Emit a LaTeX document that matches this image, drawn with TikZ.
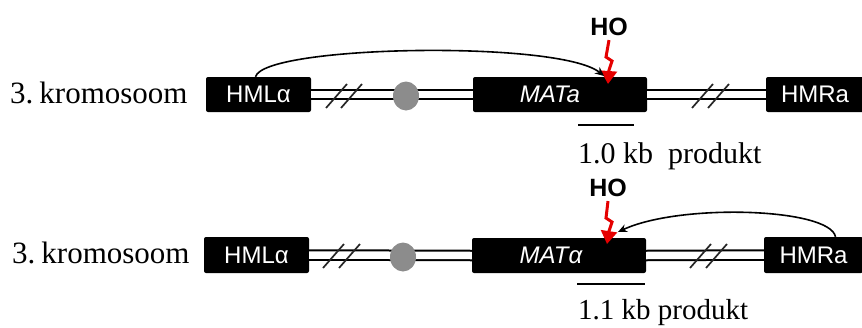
\documentclass[tikz,border=0pt]{standalone}
\usepackage{fontspec}
\setmainfont{Liberation Serif}
\newfontfamily\arialfont{Liberation Sans}
\usetikzlibrary{arrows.meta}
\begin{document}
\begin{tikzpicture}[x=1pt,y=-1pt,
  locus/.style={fill=black, text=white, rounded corners=2pt, inner sep=0pt,
    font=\arialfont\fontsize{24}{28}\selectfont},
  chromlabel/.style={anchor=base west, inner sep=0pt, font=\fontsize{31}{36}\selectfont},
  prodlabel/.style={anchor=base west, inner sep=0pt, font=\fontsize{30}{36}\selectfont},
  holabel/.style={inner sep=0pt, font=\arialfont\bfseries\fontsize{25}{30}\selectfont},
  dna/.style={draw=black, line width=2pt, double=white, double distance=7.5pt},
  breakmark/.style={draw=black!85, line width=1.7pt},
  centromere/.style={fill=black!45, draw=none},
  donor/.style={draw=black, line width=1.6pt, -{Stealth[length=9pt,width=8pt]}},
  cut/.style={draw=red!90!black, line width=3pt, line join=miter,
    -{Triangle[length=13pt,width=16pt]}},
  prodbar/.style={draw=black, line width=2pt}]
\useasboundingbox (0,0) rectangle (862,327);

% ---------- upper chromosome ----------
\node[chromlabel] (chr1) at (10,103) {3.\hspace{6pt}kromosoom};
\node[locus, minimum width=105pt, minimum height=35pt] (hml1) at (258.5,94.5) {HMLα};
\node[locus, minimum width=174pt, minimum height=35pt] (mat1) at (560,94.5) {\hspace{-20pt}\itshape MATa};
\node[locus, minimum width=98pt, minimum height=35pt] (hmr1) at (815,94.5) {HMRa};
\draw[dna] (hml1.east) -- (mat1.west);
\draw[dna] (mat1.east) -- (hmr1.west);
\draw[breakmark] (326,108) -- (347,84);
\draw[breakmark] (341,108) -- (362,84);
\draw[breakmark] (692,108) -- (713,84);
\draw[breakmark] (708,108) -- (729,84);
\fill[centromere] (406,96) ellipse [x radius=13pt, y radius=14.5pt];

\node[holabel] (ho1) at (609,27) {HO};
\coordinate (cut1) at (608,84);
\draw[cut] (ho1.south) ++(0,4) -- (606,57) -- (612,61) -- (609,70) -- (cut1);
\coordinate (don1) at (604,76);
\draw[donor] (hml1.north) ++(-3,0) .. controls (264,45) and (560,40) .. (don1);

\draw[prodbar] (578,125) -- (634,125);
\node[prodlabel] (prod1) at (578,163) {1.0 kb\ \ produkt};

% ---------- lower chromosome ----------
\node[chromlabel] (chr2) at (12,263) {3.\hspace{6pt}kromosoom};
\node[locus, minimum width=105pt, minimum height=36pt] (hml2) at (256.5,255) {HMLα};
\node[locus, minimum width=174pt, minimum height=35pt] (mat2) at (559,255.5) {\hspace{-16pt}\itshape MATα};
\node[locus, minimum width=99pt, minimum height=36pt] (hmr2) at (813.5,255) {HMRa};
\draw[dna] (hml2.east) -- (mat2.west);
\draw[dna] (mat2.east) -- (hmr2.west);
\draw[breakmark] (323,268) -- (344,244);
\draw[breakmark] (339,268) -- (360,244);
\draw[breakmark] (690,268) -- (711,244);
\draw[breakmark] (706,268) -- (727,244);
\fill[centromere] (403,257) ellipse [x radius=13pt, y radius=14.5pt];

\node[holabel] (ho2) at (608,188) {HO};
\coordinate (cut2) at (607,244);
\draw[cut] (ho2.south) ++(0,4) -- (606,218) -- (612,222) -- (609,231) -- (cut2);
\coordinate (don2) at (618,232);
\draw[donor] (hmr2.north) ++(22,0) .. controls (830,208) and (680,203) .. (don2);

\draw[prodbar] (577,284) -- (645,284);
\node[prodlabel, font=\fontsize{29}{34}\selectfont] (prod2) at (578,319.5) {1.1 kb produkt};
\end{tikzpicture}
\end{document}
